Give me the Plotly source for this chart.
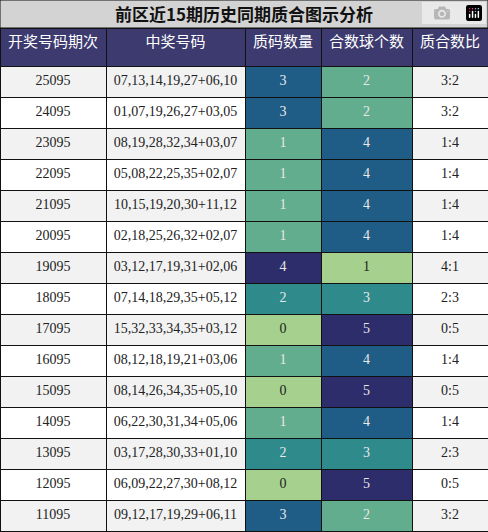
import plotly.graph_objects as go

periods = ["25095", "24095", "23095", "22095", "21095", "20095", "19095", "18095",
           "17095", "16095", "15095", "14095", "13095", "12095", "11095"]
numbers = ["07,13,14,19,27+06,10", "01,07,19,26,27+03,05", "08,19,28,32,34+03,07",
           "05,08,22,25,35+02,07", "10,15,19,20,30+11,12", "02,18,25,26,32+02,07",
           "03,12,17,19,31+02,06", "07,14,18,29,35+05,12", "15,32,33,34,35+03,12",
           "08,12,18,19,21+03,06", "08,14,26,34,35+05,10", "06,22,30,31,34+05,06",
           "03,17,28,30,33+01,10", "06,09,22,27,30+08,12", "09,12,17,19,29+06,11"]
primes = [3, 3, 1, 1, 1, 1, 4, 2, 0, 1, 0, 1, 2, 0, 3]
composites = [2, 2, 4, 4, 4, 4, 1, 3, 5, 4, 5, 4, 3, 5, 2]
ratios = [f"{p}:{c}" for p, c in zip(primes, composites)]
headers = ["开奖号码期次", "中奖号码", "质码数量", "合数球个数", "质合数比"]

scale = ["#a5d08e", "#62ad8e", "#2f8a8c", "#1f5d87", "#2e2d6b"]

def cmap(vals):
    lo = min(vals)
    return [scale[v - lo] for v in vals]

def fcol(vals):
    lo = min(vals)
    return ["#222" if v == lo else "#e8e8e8" for v in vals]

zebra = ["#f2f2f2" if i % 2 == 0 else "white" for i in range(len(periods))]

fig = go.Figure(go.Table(
    domain=dict(x=[0, 1], y=[0, 504 / 532]),
    columnwidth=[106, 139, 76, 91, 76],
    header=dict(values=headers, fill_color="#3c3a6e", height=38,
                line=dict(color="#111", width=1), align="center",
                font=dict(family="Noto Sans CJK SC", size=15, color="white")),
    cells=dict(values=[periods, numbers, primes, composites, ratios],
               fill_color=[zebra, zebra, cmap(primes), cmap(composites), zebra],
               font=dict(family="Liberation Serif", size=14,
                         color=[["#222"] * 15, ["#222"] * 15, fcol(primes), fcol(composites), ["#222"] * 15]),
               height=31, line=dict(color="#111", width=1), align="center")
))
fig.add_shape(type="rect", xref="paper", yref="paper", x0=0, x1=1, y0=504 / 532, y1=1,
              fillcolor="#d3d3d3", line=dict(color="#111", width=1), layer="below")
fig.add_annotation(text="<b>前区近15期历史同期质合图示分析</b>", xref="paper", yref="paper",
                   x=0.5, y=1 - 14 / 532, yanchor="middle", showarrow=False,
                   font=dict(family="Noto Sans CJK SC", size=17, color="#111"))
fig.update_layout(width=488, height=532, margin=dict(l=0, r=0, t=0, b=0),
                  paper_bgcolor="white")
fig.write_html("out.html", post_script="document.body.style.margin='0';")
